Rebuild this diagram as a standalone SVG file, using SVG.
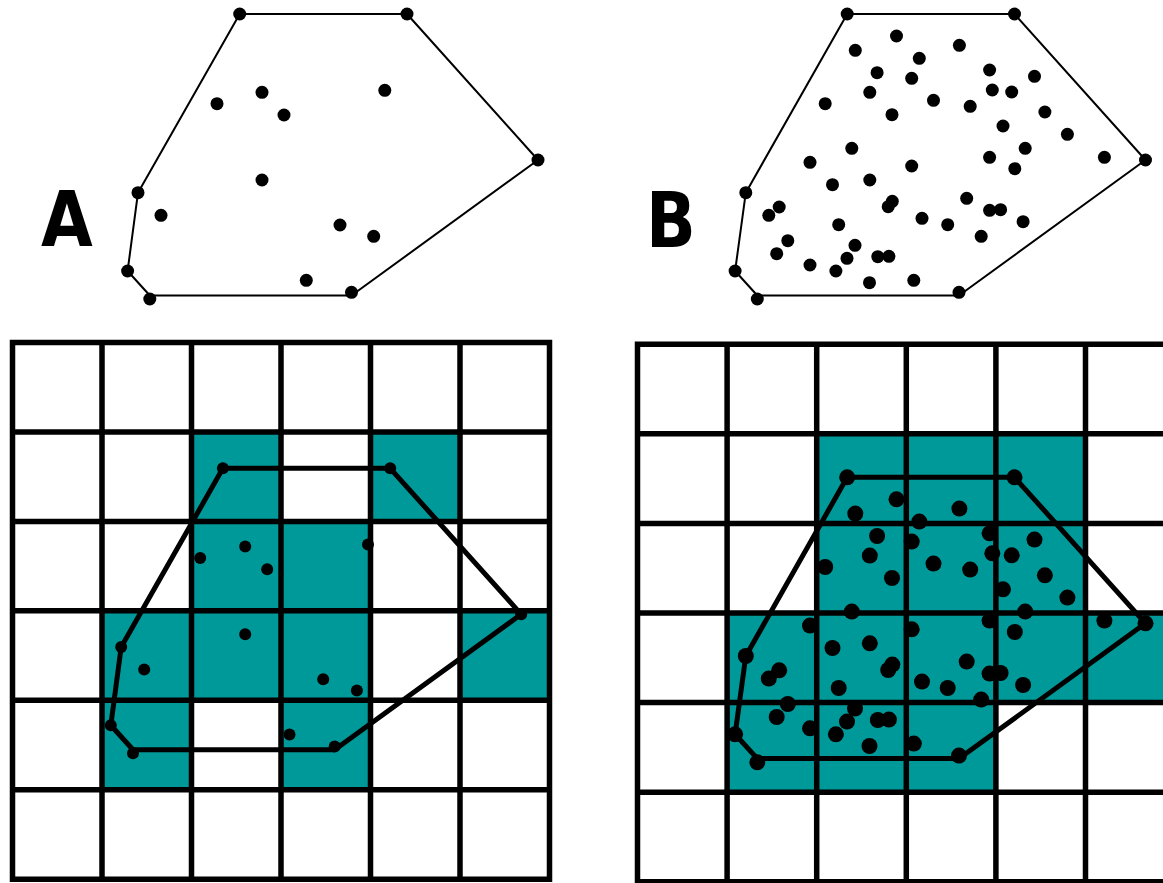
<svg xmlns="http://www.w3.org/2000/svg" width="1163" height="883" viewBox="0 0 1163 883">
  <style>
    .bg { fill: #ffffff; }
    .thin { fill: none; stroke: #000; stroke-width: 2; stroke-linejoin: round; }
    .thick { fill: none; stroke: #000; stroke-width: 5; stroke-linejoin: round; }
    .lines { fill: none; stroke: #000; stroke-width: 5.5; stroke-linecap: square; }
    .cell { fill: #009999; }
    .dot { fill: #000; }
    .label { font-family: "DejaVu Sans", "Liberation Sans", sans-serif; font-weight: bold; font-size: 76px; fill: #000; }
  </style>
  <rect class="bg" x="0" y="0" width="1163" height="883"/>

  <!-- Panel A: sparse point set and its hull -->
  <g id="panel-a-points">
    <polygon class="thin" points="239.7,14 407,14 538,160 351.5,295.5 149.8,295.5 127.6,271 138,192.7"/>
    <g class="dot">
      <circle cx="239.7" cy="14" r="6.5"/><circle cx="407" cy="14" r="6.5"/><circle cx="538" cy="160" r="6.5"/>
      <circle cx="351.5" cy="292.3" r="6.5"/><circle cx="149.8" cy="299" r="6.5"/><circle cx="127.6" cy="271" r="6.5"/>
      <circle cx="138" cy="192.7" r="6.5"/>
      <circle cx="217" cy="103.7" r="6.5"/><circle cx="262" cy="92.3" r="6.5"/><circle cx="284" cy="115" r="6.5"/>
      <circle cx="384.8" cy="90.3" r="6.5"/><circle cx="262" cy="180" r="6.5"/><circle cx="161" cy="215.3" r="6.5"/>
      <circle cx="340" cy="225" r="6.5"/><circle cx="373.7" cy="236.3" r="6.5"/><circle cx="306.3" cy="280.3" r="6.5"/>
    </g>
    <text class="label" transform="translate(41,245.5) scale(0.88,1)" x="0" y="0">A</text>
  </g>

  <!-- Panel B: dense point set and its hull -->
  <g id="panel-b-points">
    <polygon class="thin" points="847.2,14 1014.5,14 1145.5,160 959,295.5 757.3,295.5 735.1,271 745.8,192.7"/>
    <g class="dot">
      <circle cx="847.2" cy="14" r="6.5"/><circle cx="1014.5" cy="14" r="6.5"/><circle cx="1145.5" cy="160" r="6.5"/>
      <circle cx="959" cy="292.3" r="6.5"/><circle cx="757.3" cy="299" r="6.5"/><circle cx="735.1" cy="271" r="6.5"/>
      <circle cx="745.8" cy="192.7" r="6.5"/>
      <circle cx="896.5" cy="36" r="6.5"/><circle cx="855.3" cy="50.3" r="6.5"/><circle cx="959.4" cy="45.3" r="6.5"/>
      <circle cx="919.3" cy="58.3" r="6.5"/><circle cx="877.1" cy="72.7" r="6.5"/><circle cx="911.7" cy="78.3" r="6.5"/>
      <circle cx="989.6" cy="70" r="6.5"/><circle cx="1034.5" cy="76.3" r="6.5"/><circle cx="869.8" cy="92.3" r="6.5"/>
      <circle cx="992.3" cy="90" r="6.5"/><circle cx="1011.7" cy="92" r="6.5"/><circle cx="825.2" cy="103.7" r="6.5"/>
      <circle cx="933.5" cy="100.3" r="6.5"/><circle cx="970.2" cy="106.3" r="6.5"/><circle cx="892" cy="114.7" r="6.5"/>
      <circle cx="1044.9" cy="112" r="6.5"/><circle cx="1003" cy="126" r="6.5"/><circle cx="1067.4" cy="134.3" r="6.5"/>
      <circle cx="851.8" cy="148.3" r="6.5"/><circle cx="1025.2" cy="148.3" r="6.5"/><circle cx="989.6" cy="157.3" r="6.5"/>
      <circle cx="1104.4" cy="157.3" r="6.5"/><circle cx="810" cy="162.3" r="6.5"/><circle cx="911.7" cy="166" r="6.5"/>
      <circle cx="1014.8" cy="168.7" r="6.5"/><circle cx="832.5" cy="184.7" r="6.5"/><circle cx="869.8" cy="180" r="6.5"/>
      <circle cx="966.7" cy="198.3" r="6.5"/><circle cx="892.3" cy="201.3" r="6.5"/><circle cx="888.2" cy="206.7" r="6.5"/>
      <circle cx="779.2" cy="207" r="6.5"/><circle cx="768.8" cy="215.3" r="6.5"/><circle cx="989.6" cy="210.3" r="6.5"/>
      <circle cx="1000.6" cy="209.7" r="6.5"/><circle cx="922" cy="218.3" r="6.5"/><circle cx="947.7" cy="224.7" r="6.5"/>
      <circle cx="1023.1" cy="221.7" r="6.5"/><circle cx="838.7" cy="224.7" r="6.5"/><circle cx="981.2" cy="236.3" r="6.5"/>
      <circle cx="787.8" cy="240.7" r="6.5"/><circle cx="776.7" cy="253.7" r="6.5"/><circle cx="855" cy="245.3" r="6.5"/>
      <circle cx="847" cy="258.3" r="6.5"/><circle cx="877.8" cy="256.7" r="6.5"/><circle cx="888.9" cy="256.3" r="6.5"/>
      <circle cx="810" cy="265" r="6.5"/><circle cx="835.9" cy="271" r="6.5"/><circle cx="869.5" cy="282.7" r="6.5"/>
      <circle cx="913.8" cy="280.3" r="6.5"/>
    </g>
    <text class="label" transform="translate(646,246.5) scale(0.86,1)" x="0" y="0">B</text>
  </g>

  <!-- Grid A: occupied cells, grid lines, hull and points -->
  <g id="grid-a">
    <g class="cell">
      <rect x="191.5" y="431.95" width="89.5" height="89.45"/>
      <rect x="370.5" y="431.95" width="89.5" height="89.45"/>
      <rect x="191.5" y="521.4" width="179" height="89.45"/>
      <rect x="102" y="610.85" width="268.5" height="89.45"/>
      <rect x="460" y="610.85" width="89.5" height="89.45"/>
      <rect x="102" y="700.3" width="89.5" height="89.45"/>
      <rect x="281" y="700.3" width="89.5" height="89.45"/>
    </g>
    <path class="lines" d="M12.5,342.5V879.2M102,342.5V879.2M191.5,342.5V879.2M281,342.5V879.2M370.5,342.5V879.2M460,342.5V879.2M549.5,342.5V879.2
      M12.5,342.5H549.5M12.5,431.95H549.5M12.5,521.4H549.5M12.5,610.85H549.5M12.5,700.3H549.5M12.5,789.75H549.5M12.5,879.2H549.5"/>
    <polygon class="thick" points="222.9,468.3 390.2,468.3 521.2,614.3 334.7,749.8 133,749.8 110.8,725.3 121.2,647"/>
    <g class="dot">
      <circle cx="222.9" cy="468.3" r="6"/><circle cx="390.2" cy="468.3" r="6"/><circle cx="521.2" cy="614.3" r="6"/>
      <circle cx="334.7" cy="746.6" r="6"/><circle cx="133" cy="753.3" r="6"/><circle cx="110.8" cy="725.3" r="6"/>
      <circle cx="121.2" cy="647" r="6"/>
      <circle cx="200.2" cy="558" r="6"/><circle cx="245.2" cy="546.6" r="6"/><circle cx="267.2" cy="569.3" r="6"/>
      <circle cx="368" cy="544.6" r="6"/><circle cx="245.2" cy="634.3" r="6"/><circle cx="144.2" cy="669.6" r="6"/>
      <circle cx="323.2" cy="679.3" r="6"/><circle cx="356.9" cy="690.6" r="6"/><circle cx="289.5" cy="734.6" r="6"/>
    </g>
  </g>

  <!-- Grid B: occupied cells, grid lines, hull and points -->
  <g id="grid-b">
    <g class="cell">
      <rect x="816.7" y="433.8" width="268.8" height="179.2"/>
      <rect x="727.1" y="613" width="448" height="89.6"/>
      <rect x="727.1" y="702.6" width="268.8" height="89.6"/>
    </g>
    <path class="lines" d="M637.5,344.2V881.8M727.1,344.2V881.8M816.7,344.2V881.8M906.3,344.2V881.8M995.9,344.2V881.8M1085.5,344.2V881.8M1175.1,344.2V881.8
      M637.5,344.2H1175.1M637.5,433.8H1175.1M637.5,523.4H1175.1M637.5,613H1175.1M637.5,702.6H1175.1M637.5,792.2H1175.1M637.5,881.8H1175.1"/>
    <polygon class="thick" points="847.2,477.3 1014.5,477.3 1145.5,623.3 959,758.6 757.3,758.6 735.1,734.3 745.8,656"/>
    <g class="dot">
      <circle cx="847.2" cy="477.3" r="8"/><circle cx="1014.5" cy="477.3" r="8"/><circle cx="1145.5" cy="623.3" r="8"/>
      <circle cx="959" cy="755.6" r="8"/><circle cx="757.3" cy="762.3" r="8"/><circle cx="735.1" cy="734.3" r="8"/>
      <circle cx="745.8" cy="656" r="8"/>
      <circle cx="896.5" cy="499.3" r="8"/><circle cx="855.3" cy="513.6" r="8"/><circle cx="959.4" cy="508.6" r="8"/>
      <circle cx="919.3" cy="521.6" r="8"/><circle cx="877.1" cy="536" r="8"/><circle cx="911.7" cy="541.6" r="8"/>
      <circle cx="989.6" cy="533.3" r="8"/><circle cx="1034.5" cy="539.6" r="8"/><circle cx="869.8" cy="555.6" r="8"/>
      <circle cx="992.3" cy="553.3" r="8"/><circle cx="1011.7" cy="555.3" r="8"/><circle cx="825.2" cy="567" r="8"/>
      <circle cx="933.5" cy="563.6" r="8"/><circle cx="970.2" cy="569.6" r="8"/><circle cx="892" cy="578" r="8"/>
      <circle cx="1044.9" cy="575.3" r="8"/><circle cx="1003" cy="589.3" r="8"/><circle cx="1067.4" cy="597.6" r="8"/>
      <circle cx="851.8" cy="611.6" r="8"/><circle cx="1025.2" cy="611.6" r="8"/><circle cx="989.6" cy="620.6" r="8"/>
      <circle cx="1104.4" cy="620.6" r="8"/><circle cx="810" cy="625.6" r="8"/><circle cx="911.7" cy="629.3" r="8"/>
      <circle cx="1014.8" cy="632" r="8"/><circle cx="832.5" cy="648" r="8"/><circle cx="869.8" cy="643.3" r="8"/>
      <circle cx="966.7" cy="661.6" r="8"/><circle cx="892.3" cy="664.6" r="8"/><circle cx="888.2" cy="670" r="8"/>
      <circle cx="779.2" cy="670.3" r="8"/><circle cx="768.8" cy="678.6" r="8"/><circle cx="989.6" cy="673.6" r="8"/>
      <circle cx="1000.6" cy="673" r="8"/><circle cx="922" cy="681.6" r="8"/><circle cx="947.7" cy="688" r="8"/>
      <circle cx="1023.1" cy="685" r="8"/><circle cx="838.7" cy="688" r="8"/><circle cx="981.2" cy="699.6" r="8"/>
      <circle cx="787.8" cy="704" r="8"/><circle cx="776.7" cy="717" r="8"/><circle cx="855" cy="708.6" r="8"/>
      <circle cx="847" cy="721.6" r="8"/><circle cx="877.8" cy="720" r="8"/><circle cx="888.9" cy="719.6" r="8"/>
      <circle cx="810" cy="728.3" r="8"/><circle cx="835.9" cy="734.3" r="8"/><circle cx="869.5" cy="746" r="8"/>
      <circle cx="913.8" cy="743.6" r="8"/>
    </g>
  </g>
</svg>
